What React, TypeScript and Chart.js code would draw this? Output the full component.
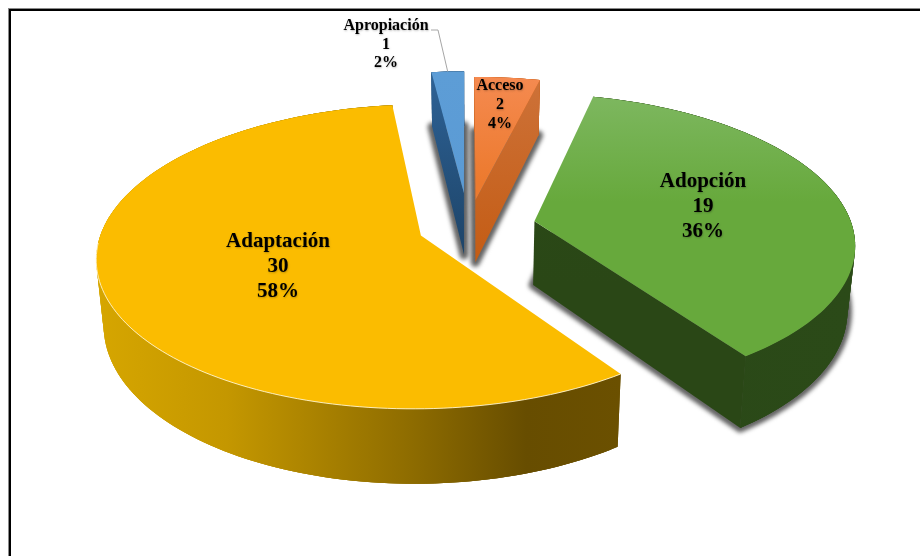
import React, { useEffect, useRef } from "react";
import { Chart, registerables } from "chart.js";

Chart.register(...registerables);

const categories = ["Apropiación", "Acceso", "Adopción", "Adaptación"];
const values = [1, 2, 19, 30];
const percents = [2, 4, 36, 58];
const explosion = [0.24, 0.19, 0.212, 0.159];

const topStops = [
  ["#5d9dd6", "#5b9bd5"],
  ["#f58a50", "#ec7a2e"],
  ["#7db75f", "#67a93c"],
  ["#fbbc00", "#fbbc00"],
];
const sideStops = [
  ["#2e6296", "#1d4468"],
  ["#cd7239", "#c45c14"],
  ["#2b4a18", "#2a4716"],
  ["#8e6c00", "#6b5000"],
];
const rimStops: Array<[number, string]>[] = [
  [[0, "#1f4e79"], [1, "#1f4e79"]],
  [[0, "#c55a11"], [1, "#c55a11"]],
  [[0, "#2a4817"], [1, "#2b4a18"]],
  [[0, "#d6a600"], [0.25, "#c49700"], [0.6, "#8e6c00"], [0.82, "#674d00"], [1, "#6b5000"]],
];
const hasShadow = [true, true, true, false];
const hasRimLight = [false, false, false, true];
const drawOrder = [0, 1, 3, 2];

const labelPlace = [
  { x: 386, y: 26, step: 18.5, size: 16 },
  { x: 500, y: 86, step: 19, size: 16 },
  { x: 703, y: 182, step: 25, size: 21 },
  { x: 278, y: 242, step: 25, size: 21 },
];

const BASE_OFFSET = 100;
const VIEW = { cx: 468.5, cy: 227, rx: 318, ry: 147, persp: 0.138, depth: 64, shrink: 0.02 };

const project = (u: number, v: number, z: number): [number, number] => {
  const w = 1 - VIEW.persp * v;
  return [
    VIEW.cx + ((VIEW.rx * u) / w) * (1 - VIEW.shrink * z),
    VIEW.cy + (VIEW.ry * v) / w + (VIEW.depth * z) / w,
  ];
};

const tracePts = (ctx: CanvasRenderingContext2D, pts: [number, number][]) => {
  ctx.beginPath();
  pts.forEach((p, i) => (i ? ctx.lineTo(p[0], p[1]) : ctx.moveTo(p[0], p[1])));
  ctx.closePath();
};

const sliceGeom = (el: any) => {
  const { startAngle, endAngle } = el.getProps(["startAngle", "endAngle"], true);
  const off = el.options.offset / BASE_OFFSET;
  const mid = (startAngle + endAngle) / 2;
  const ou = Math.cos(mid) * off;
  const ov = Math.sin(mid) * off;
  const arc: [number, number][] = [];
  const n = Math.max(6, Math.ceil((endAngle - startAngle) * 40));
  for (let k = 0; k <= n; k++) {
    const a = startAngle + ((endAngle - startAngle) * k) / n;
    arc.push([ou + Math.cos(a), ov + Math.sin(a)]);
  }
  return { ou, ov, arc, startAngle, endAngle };
};

const pie3d = {
  id: "pie3d",
  beforeDraw(chart: any) {
    const { ctx, width, height } = chart;
    ctx.save();
    ctx.fillStyle = "#ffffff";
    ctx.fillRect(0, 0, width, height);
    ctx.fillStyle = "#8a8a8a";
    ctx.fillRect(8, 8, width - 8, 1);
    ctx.fillRect(8, 8, 1, height - 8);
    ctx.fillStyle = "#000000";
    ctx.fillRect(9, 9, width - 9, 2);
    ctx.fillRect(9, 9, 2, height - 9);
    ctx.restore();
  },
  beforeDatasetDraw(chart: any) {
    const { ctx } = chart;
    const els = chart.getDatasetMeta(0).data;
    const geoms = els.map(sliceGeom);

    // soft shadows under the floating slices
    ctx.save();
    ctx.filter = "blur(2px)";
    ctx.strokeStyle = "#666666";
    ctx.fillStyle = "#666666";
    ctx.lineJoin = "round";
    ctx.lineWidth = 9;
    geoms.forEach((g: any, i: number) => {
      if (!hasShadow[i]) return;
      const bottom = [project(g.ou, g.ov, 1), ...g.arc.map((p: number[]) => project(p[0], p[1], 1))] as [number, number][];
      tracePts(ctx, bottom);
      ctx.stroke();
      ctx.fill();
    });
    ctx.restore();

    drawOrder.forEach((i) => {
      const g = geoms[i];
      const topArc = g.arc.map((p: number[]) => project(p[0], p[1], 0));
      const botArc = g.arc.map((p: number[]) => project(p[0], p[1], 1));
      const apexT = project(g.ou, g.ov, 0);
      const apexB = project(g.ou, g.ov, 1);

      // curved outer wall: overlapping quads keep the silhouette closed without seams
      const xs = [...topArc, ...botArc].map((p: number[]) => p[0]);
      const rim = ctx.createLinearGradient(Math.min(...xs), 0, Math.max(...xs), 0);
      rimStops[i].forEach(([o, c]) => rim.addColorStop(o, c));
      ctx.fillStyle = rim;
      tracePts(ctx, [...topArc, ...[...botArc].reverse()]);
      ctx.fill();
      for (let k = 0; k < topArc.length - 1; k++) {
        const e = Math.min(k + 2, topArc.length - 1);
        tracePts(ctx, [topArc[k], topArc[e], botArc[e], botArc[k]]);
        ctx.fill();
      }

      // radial walls: only those turned towards the viewer
      const wallGrad = ctx.createLinearGradient(0, Math.min(...topArc.map((p: number[]) => p[1])), 0, apexB[1]);
      wallGrad.addColorStop(0, sideStops[i][0]);
      wallGrad.addColorStop(1, sideStops[i][1]);
      ctx.fillStyle = wallGrad;
      const last = topArc.length - 1;
      if (topArc[0][0] < apexT[0]) {
        tracePts(ctx, [apexT, topArc[0], botArc[0], apexB]);
        ctx.fill();
      }
      if (topArc[last][0] > apexT[0]) {
        tracePts(ctx, [apexT, topArc[last], botArc[last], apexB]);
        ctx.fill();
      }

      // top face
      const ys = topArc.map((p: number[]) => p[1]);
      const top0 = Math.min(...ys);
      const face = ctx.createLinearGradient(0, top0, 0, top0 + 105);
      face.addColorStop(0, topStops[i][0]);
      face.addColorStop(1, topStops[i][1]);
      ctx.fillStyle = face;
      tracePts(ctx, [apexT, ...topArc]);
      ctx.fill();

      if (hasRimLight[i]) {
        ctx.strokeStyle = "rgba(255,244,205,0.9)";
        ctx.lineWidth = 1;
        ctx.beginPath();
        let pen = false;
        topArc.forEach((pt: [number, number], k: number) => {
          if (g.arc[k][1] - g.ov < 0.05) {
            pen = false;
            return;
          }
          if (pen) ctx.lineTo(pt[0], pt[1]);
          else ctx.moveTo(pt[0], pt[1]);
          pen = true;
        });
        ctx.stroke();
      }
    });

    // leader line of the smallest slice
    ctx.save();
    ctx.strokeStyle = "#a6a6a6";
    ctx.lineWidth = 1;
    const mid0 = geoms[0].arc[Math.floor(geoms[0].arc.length * 0.5)];
    const tip = project(mid0[0], mid0[1], 0);
    ctx.beginPath();
    ctx.moveTo(431, 30);
    ctx.lineTo(438, 30);
    ctx.lineTo(tip[0], tip[1]);
    ctx.stroke();
    ctx.restore();

    // data labels
    ctx.save();
    ctx.textAlign = "center";
    ctx.textBaseline = "middle";
    ctx.fillStyle = "#000000";
    categories.forEach((name, i) => {
      const place = labelPlace[i];
      ctx.font = `bold ${place.size}px "Liberation Serif"`;
      ctx.shadowColor = "rgba(0,0,0,0.25)";
      ctx.shadowBlur = 2;
      ctx.shadowOffsetX = 0.5;
      ctx.shadowOffsetY = 0.5;
      [name, String(values[i]), `${percents[i]}%`].forEach((line, k) => {
        ctx.fillText(line, place.x, place.y + k * place.step);
      });
    });
    ctx.restore();
    return false;
  },
};

export default function App() {
  const ref = useRef<HTMLCanvasElement>(null);
  useEffect(() => {
    if (!ref.current) return;
    const chart = new Chart(ref.current, {
      type: "pie",
      data: {
        labels: categories,
        datasets: [
          {
            data: values,
            backgroundColor: topStops.map((s) => s[1]),
            offset: (c: any) => explosion[c.dataIndex] * BASE_OFFSET,
            borderWidth: 0,
          } as any,
        ],
      },
      options: {
        responsive: false,
        devicePixelRatio: 1,
        animation: false,
        rotation: -7,
        layout: { padding: 0 },
        plugins: { legend: { display: false }, tooltip: { enabled: false } },
      },
      plugins: [pie3d],
    });
    return () => chart.destroy();
  }, []);
  return (
    <div style={{ position: "absolute", left: 0, top: 0, width: 920, height: 556 }}>
      <canvas ref={ref} width={920} height={556} style={{ display: "block" }} />
    </div>
  );
}
